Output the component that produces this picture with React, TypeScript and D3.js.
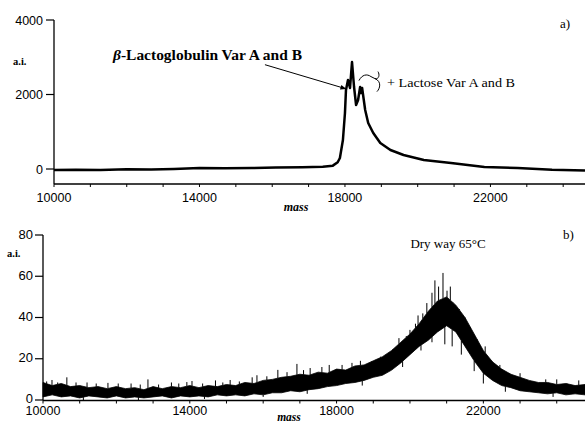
import React from "react";
import * as d3 from "d3";

// ---------- Panel a) : MALDI spectrum (mass vs a.i.) ----------
const topMass = [10000, 10600, 11280, 12000, 12670, 13300, 14000, 14700, 15440, 16100, 16830, 17390, 17667, 17800, 17861, 17944, 18000, 18028, 18083, 18139, 18194, 18250, 18306, 18361, 18417, 18444, 18472, 18556, 18639, 18778, 18972, 19250, 19611, 20167, 20917, 21833, 22750, 23694, 24600];
const topVal = [-30, -20, -30, -10, -15, 0, 30, 20, 25, 40, 50, 60, 90, 180, 295, 779, 1503, 2121, 2389, 2174, 2872, 2201, 1718, 1852, 2201, 2040, 2174, 1584, 1235, 966, 698, 510, 376, 242, 161, 54, 27, -20, -40];

// ---------- Panel b) : Dry way 65°C, noisy band (lower / upper envelope) ----------
const botMass = [10000, 10250, 10500, 10750, 11000, 11250, 11500, 11750, 12000, 12250, 12500, 12750, 13000, 13250, 13500, 13750, 14000, 14250, 14500, 14750, 15000, 15250, 15500, 15750, 16000, 16250, 16500, 16750, 17000, 17250, 17500, 17750, 18000, 18250, 18500, 18750, 19000, 19250, 19500, 19750, 20000, 20250, 20500, 20750, 21000, 21250, 21500, 21750, 22000, 22250, 22500, 22750, 23000, 23250, 23500, 23750, 24000, 24250, 24500, 24770];
const botHigh = [8.5, 7, 8, 6.5, 7, 6, 6.5, 5.5, 6.5, 5.5, 6, 5, 6.5, 5.5, 6.5, 6, 7, 6, 7, 6.5, 7.5, 7, 8.5, 8, 9.5, 10, 11, 11.5, 12.5, 12, 13.5, 13, 15, 14.5, 16.5, 17, 19, 21, 24, 28, 32, 37, 43, 48, 50, 46, 40, 32, 24, 18.5, 15, 12.5, 11, 9.5, 8.5, 8.5, 7.5, 8, 7, 7.5];
const botLow = [1.5, 2.5, 1.5, 2, 1, 2, 1.5, 1, 2, 1, 1.5, 1, 1.5, 2, 1, 2, 1.5, 2, 1.5, 2.5, 2, 2.5, 2, 3, 2.5, 3.5, 3.5, 4.5, 4, 5, 5.5, 6.5, 7, 8, 8.5, 9.5, 11, 12, 14.5, 18, 22, 26, 29, 33, 36, 33, 26, 19, 13, 9.5, 7, 6, 4.5, 4, 3.5, 3, 3.5, 2.5, 3, 2.5];

// upward spikes above the band (mass, a.i.)
const spikeMass = [10100, 10245, 10400, 10650, 10900, 11200, 11450, 11770, 12050, 12400, 12650, 12860, 13150, 13500, 13700, 13920, 14060, 14350, 14700, 14900, 15100, 15350, 15700, 15830, 16100, 16400, 16650, 16920, 17100, 17280, 17600, 17800, 18150, 18420, 18650, 18960, 19200, 19540, 19700, 19900, 20000, 20150, 20220, 20350, 20460, 20600, 20680, 20780, 20900, 21010, 21100, 21170, 21350, 21500, 21650, 21830, 22050, 22230, 22450, 22720, 23000, 23350, 23700, 24000, 24280, 24600];
const spikeVal = [9, 9.7, 8.5, 11, 8.5, 8.5, 8, 8.3, 8, 8, 7.5, 10, 7.5, 8.5, 8, 8.7, 9.2, 8, 9.5, 8.5, 9.7, 9, 11, 12, 11.5, 14.6, 13.5, 17.5, 14.5, 15.5, 16, 17, 17, 18, 19, 18.4, 21, 23, 30, 31, 34, 37, 41, 42, 47, 52, 58, 55, 61.6, 53, 55, 47.5, 44, 35, 34, 27.7, 26, 18, 17, 11, 13, 8.3, 10, 10, 7.3, 9.5];

// downward notches below the band
const dipMass = [11100, 12600, 14400, 16000, 17200, 18700, 19800, 20300, 20600, 20950, 21150, 21400, 21750, 22000, 22600, 23900];
const dipVal = [0, 0, 0.5, 1.5, 3, 7, 16, 24, 28, 27, 26, 22, 14, 8, 4, 1.5];

const topYTicks = [0, 2000, 4000];
const botYTicks = [0, 20, 40, 60, 80];
const xLabelTicks = [10000, 14000, 18000, 22000];
const xMinorTicks = [10000, 11000, 12000, 13000, 14000, 15000, 16000, 17000, 18000, 19000, 20000, 21000, 22000, 23000, 24000];

const W = 585;
const H = 424;
const SANS = "'Liberation Sans', Arial, sans-serif";
const SERIF = "'Liberation Serif', 'Times New Roman', serif";

function interp(xs: number[], ys: number[], x: number) {
  const i = Math.max(1, Math.min(xs.length - 1, d3.bisectLeft(xs, x)));
  const t = (x - xs[i - 1]) / (xs[i] - xs[i - 1]);
  return ys[i - 1] + t * (ys[i] - ys[i - 1]);
}

export default function App() {
  // scales panel a
  const xTop = d3.scaleLinear().domain([10000, 24600]).range([54, 585]);
  const yTop = d3.scaleLinear().domain([0, 4000]).range([169, 20]);
  const topAxisY = 184;
  // scales panel b
  const xBot = d3.scaleLinear().domain([10000, 24770]).range([43, 585]);
  const yBot = d3.scaleLinear().domain([0, 80]).range([400, 235]);
  const botAxisY = 400.5;

  const topPts = topMass.map((m, i) => [m, topVal[i]] as [number, number]);
  const topLine = d3
    .line<[number, number]>()
    .x((d) => xTop(d[0]))
    .y((d) => yTop(d[1]))(topPts) as string;

  const band = botMass.map((m, i) => ({ m, lo: botLow[i], hi: botHigh[i] }));
  const bandPath = d3
    .area<{ m: number; lo: number; hi: number }>()
    .x((d) => xBot(d.m))
    .y0((d) => yBot(d.lo))
    .y1((d) => yBot(d.hi))(band) as string;

  // annotation anchors in data coordinates
  const arrowFrom = [15800, 2800];
  const arrowTo = [18040, 2150];
  const braceAt = [18440, 2400];
  const bx = xTop(braceAt[0]);
  const by = yTop(braceAt[1]);

  return (
    <svg
      width={W}
      height={H}
      style={{ position: "absolute", left: 0, top: 0, background: "#fff" }}
    >
      <defs>
        <marker id="ah" viewBox="0 0 10 10" refX="10" refY="5" markerWidth="7" markerHeight="6" orient="auto">
          <path d="M0,1 L10,5 L0,9 z" fill="#000" />
        </marker>
      </defs>
      <rect width={W} height={H} fill="#fff" />

      {/* ---------------- Panel a ---------------- */}
      <line x1={54} x2={54} y1={yTop(4000)} y2={topAxisY} stroke="#000" strokeWidth={1.3} />
      <line x1={54} x2={W} y1={topAxisY} y2={topAxisY} stroke="#000" strokeWidth={1.3} />
      {topYTicks.map((t) => (
        <g key={"ty" + t}>
          <line x1={46} x2={54} y1={yTop(t)} y2={yTop(t)} stroke="#000" strokeWidth={1.2} />
          <text x={43} y={yTop(t) + 4.5} textAnchor="end" fontFamily={SANS} fontSize={12.5} fill="#000">
            {t}
          </text>
        </g>
      ))}
      {xMinorTicks.map((t) => (
        <line key={"tx" + t} x1={xTop(t)} x2={xTop(t)} y1={topAxisY} y2={topAxisY + 3} stroke="#000" strokeWidth={1} />
      ))}
      {xLabelTicks.map((t) => (
        <text key={"txl" + t} x={xTop(t)} y={202} textAnchor="middle" fontFamily={SANS} fontSize={12.5} fill="#000">
          {t}
        </text>
      ))}
      <text x={296} y={211} textAnchor="middle" fontFamily={SERIF} fontStyle="italic" fontWeight="bold" fontSize={12} fill="#000">
        mass
      </text>
      <text x={13} y={65} fontFamily={SERIF} fontWeight="bold" fontSize={10.5} fill="#000">
        a.i.
      </text>
      <text x={560} y={28} fontFamily={SERIF} fontSize={13} fill="#000">
        a)
      </text>

      <path d={topLine} fill="none" stroke="#000" strokeWidth={2.5} strokeLinejoin="round" />

      <line
        x1={xTop(arrowFrom[0])}
        y1={yTop(arrowFrom[1])}
        x2={xTop(arrowTo[0])}
        y2={yTop(arrowTo[1])}
        stroke="#000"
        strokeWidth={1}
        markerEnd="url(#ah)"
      />
      <text x={113} y={60} fontFamily={SERIF} fontWeight="bold" fontSize={14} textLength={189} lengthAdjust="spacingAndGlyphs" fill="#000">
        <tspan fontStyle="italic">β</tspan>-Lactoglobulin Var A and B
      </text>
      <path
        d={`M${bx - 2},${by + 1} C${bx + 1},${by - 5} ${bx + 6},${by - 6} ${bx + 10},${by - 3} L${bx + 14},${by - 1} C${bx + 18},${by} ${bx + 19},${by - 5} ${bx + 17},${by - 8} M${bx + 14},${by - 1} C${bx + 21},${by + 2} ${bx + 19},${by + 9} ${bx + 16},${by + 12}`}
        fill="none"
        stroke="#000"
        strokeWidth={1}
      />
      <text x={387} y={87} fontFamily={SERIF} fontSize={12.5} textLength={128} lengthAdjust="spacingAndGlyphs" fill="#000">
        + Lactose Var A and B
      </text>

      {/* ---------------- Panel b ---------------- */}
      <line x1={43} x2={43} y1={yBot(80)} y2={botAxisY} stroke="#000" strokeWidth={1.3} />
      <line x1={43} x2={W} y1={botAxisY} y2={botAxisY} stroke="#000" strokeWidth={1.3} />
      {botYTicks.map((t) => (
        <g key={"by" + t}>
          <line x1={35} x2={43} y1={yBot(t)} y2={yBot(t)} stroke="#000" strokeWidth={1.2} />
          <text x={33} y={yBot(t) + (t === 0 ? 2.5 : 3.5)} textAnchor="end" fontFamily={SANS} fontSize={13} fill="#000">
            {t}
          </text>
        </g>
      ))}
      {xMinorTicks.map((t) => (
        <line key={"bx" + t} x1={xBot(t)} x2={xBot(t)} y1={botAxisY} y2={botAxisY + 3} stroke="#000" strokeWidth={1} />
      ))}
      {xLabelTicks.map((t) => (
        <text key={"bxl" + t} x={xBot(t)} y={415} textAnchor="middle" fontFamily={SANS} fontSize={12.5} fill="#000">
          {t}
        </text>
      ))}
      <text x={289} y={421} textAnchor="middle" fontFamily={SERIF} fontStyle="italic" fontWeight="bold" fontSize={11.5} fill="#000">
        mass
      </text>
      <text x={7} y={257} fontFamily={SERIF} fontWeight="bold" fontSize={10.5} fill="#000">
        a.i.
      </text>
      <text x={563} y={239} fontFamily={SERIF} fontSize={13} fill="#000">
        b)
      </text>
      <text x={448} y={248} textAnchor="middle" fontFamily={SERIF} fontSize={13} fill="#000">
        Dry way 65°C
      </text>

      <path d={bandPath} fill="#000" stroke="#000" strokeWidth={0.8} />
      {spikeMass.map((m, i) => (
        <line
          key={"sp" + i}
          x1={xBot(m)}
          x2={xBot(m)}
          y1={yBot(interp(botMass, botHigh, m))}
          y2={yBot(spikeVal[i])}
          stroke="#000"
          strokeWidth={1}
        />
      ))}
      {dipMass.map((m, i) => (
        <line
          key={"dp" + i}
          x1={xBot(m)}
          x2={xBot(m)}
          y1={yBot(interp(botMass, botLow, m))}
          y2={yBot(dipVal[i])}
          stroke="#000"
          strokeWidth={1}
        />
      ))}
    </svg>
  );
}
